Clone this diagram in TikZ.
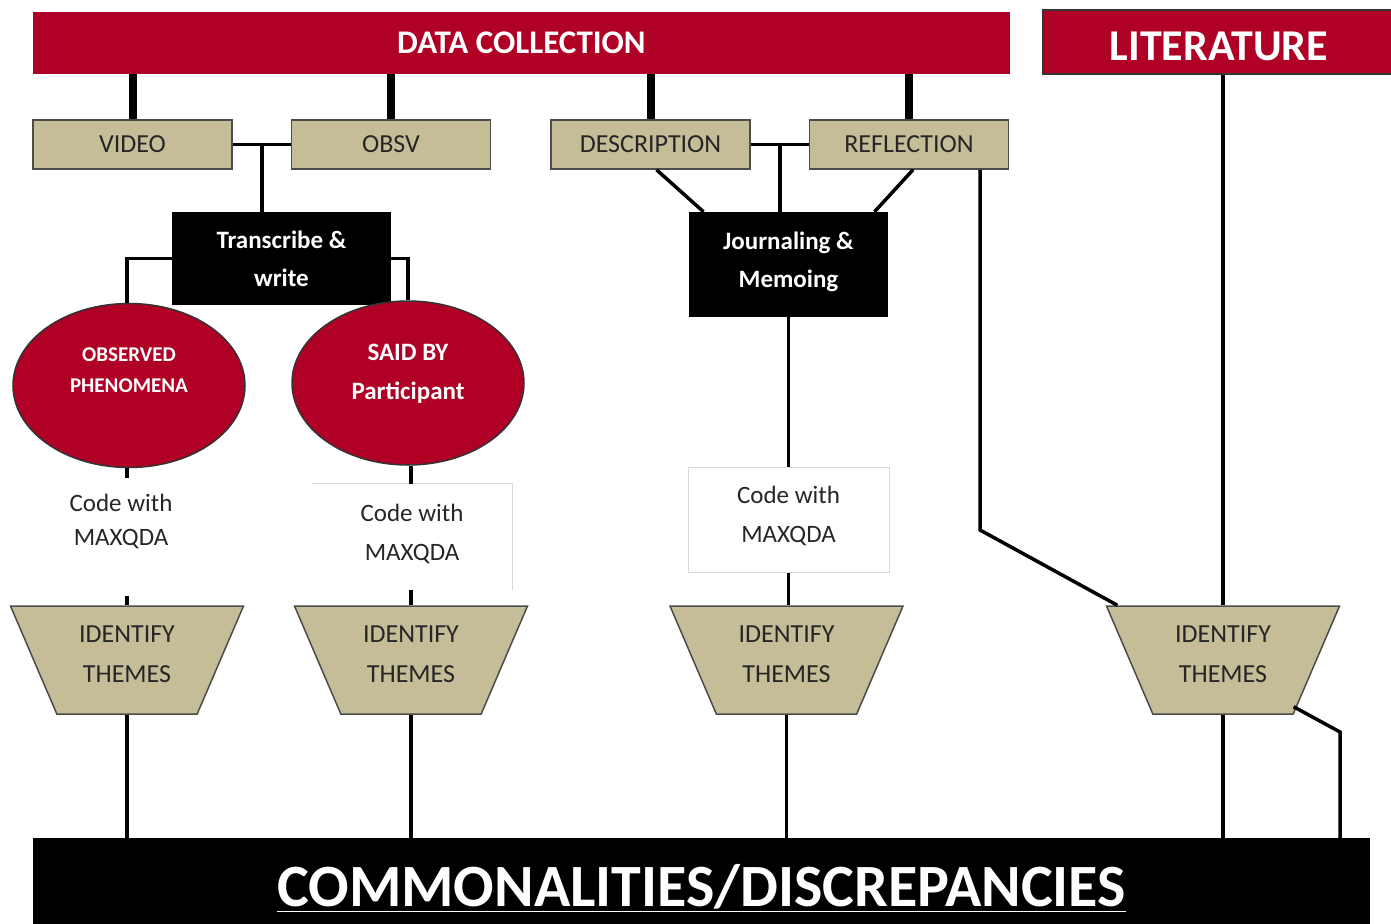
\documentclass[tikz,border=0pt]{standalone}
\usepackage{fontspec}
\setmainfont{Carlito}
\usetikzlibrary{shapes.geometric}
\definecolor{dcred}{HTML}{B00026}
\definecolor{dctan}{HTML}{C4BD97}
\tikzstyle{hbar} = [rectangle,fill=dcred,text=white,font=\bfseries,inner sep=0pt]
\tikzstyle{tbox} = [rectangle,draw=black!70,line width=1.5pt,fill=dctan,text=black!85,
    minimum width=199pt,minimum height=49pt,inner sep=0pt,font=\fontsize{26}{30}\selectfont]
\tikzstyle{bbox} = [rectangle,fill=black,text=white,align=center,inner sep=0pt,
    font=\bfseries\fontsize{25}{38}\selectfont]
\tikzstyle{rell} = [ellipse,draw=black!80,line width=1.5pt,fill=dcred,text=white,align=center,
    minimum width=232pt,minimum height=164pt,inner sep=0pt]
\tikzstyle{cbox} = [rectangle,fill=white,align=center,inner sep=0pt,text=black!85,
    font=\fontsize{25}{39}\selectfont]
\tikzstyle{ttrap} = [trapezium,trapezium left angle=124,trapezium right angle=124,
    trapezium stretches body,draw=black!70,line width=1.5pt,fill=dctan,text=black!85,
    minimum width=233pt,minimum height=108pt,inner sep=0pt,align=center,
    font=\fontsize{26}{40}\selectfont]
\tikzstyle{tlink} = [line width=8pt]
\tikzstyle{link} = [line width=3.5pt]

\begin{document}
\begin{tikzpicture}[x=1pt,y=-1pt]
	\useasboundingbox (0,0) rectangle (1391,923);

	\node(datacol) at (521.5,43) [hbar,minimum width=977pt,minimum height=62pt,font=\bfseries\fontsize{33}{40}\selectfont] {DATA COLLECTION};
	\node(lit) at (1219,42) [hbar,align=center,draw=black!80,line width=2pt,minimum width=352pt,minimum height=64pt,font=\bfseries\fontsize{44}{50}\selectfont] {\mbox{}\\[-12pt]LITERATURE};

	\node(video) at (132.5,144.5) [tbox] {VIDEO};
	\node(obsv) at (391,144.5) [tbox] {OBSV};
	\node(desc) at (650.5,144.5) [tbox] {DESCRIPTION};
	\node(refl) at (909,144.5) [tbox] {REFLECTION};

	\node(trans) at (281.5,258.5) [bbox,minimum width=219pt,minimum height=93pt] {Transcribe \&\\write};
	\node(jour) at (788.5,264.5) [bbox,minimum width=199pt,minimum height=105pt] {Journaling \&\\Memoing\\[-28pt]\mbox{}};

	\node(obs) at (129,385.5) [rell,font=\bfseries\fontsize{21}{31}\selectfont] {OBSERVED\\PHENOMENA\\\mbox{}};
	\node(said) at (408,383) [rell,font=\bfseries\fontsize{25}{39}\selectfont] {SAID BY\\Participant\\[-16pt]\mbox{}};

	\node(code1) at (121,537) [cbox,minimum width=130pt,minimum height=118pt,font=\fontsize{25}{34}\selectfont] {Code with\\MAXQDA\\\mbox{}};
	\node(code2) at (412,537) [cbox,minimum width=200pt,minimum height=106pt] {Code with\\MAXQDA\\[-29pt]\mbox{}};
	\node(code3) at (788.5,519.5) [cbox,draw=black!15,line width=1pt,minimum width=201pt,minimum height=105pt] {Code with\\MAXQDA\\[-29pt]\mbox{}};
	\draw[black!15,line width=1pt] (code2.north west) -- (code2.north east) -- (code2.south east);

	\node(t1) at (127,660) [ttrap] {IDENTIFY\\THEMES\\[-28pt]\mbox{}};
	\node(t2) at (411,660) [ttrap] {IDENTIFY\\THEMES\\[-28pt]\mbox{}};
	\node(t3) at (786.5,660) [ttrap] {IDENTIFY\\THEMES\\[-28pt]\mbox{}};
	\node(t4) at (1223,660) [ttrap] {IDENTIFY\\THEMES\\[-28pt]\mbox{}};

	\node(com) at (701.5,888) [hbar,fill=black,minimum width=1337pt,minimum height=100pt,font=\bfseries\fontsize{60}{64}\selectfont] {\underline{COMMONALITIES/DISCREPANCIES}};

	\draw[tlink] (video.north) -- (video.north |- datacol.south);
	\draw[tlink] (obsv.north) -- (obsv.north |- datacol.south);
	\draw[tlink] (desc.north) -- (desc.north |- datacol.south);
	\draw[tlink] (refl.north) -- (refl.north |- datacol.south);

	\draw[link] (video.east) -- coordinate (vomid) (obsv.west);
	\draw[link] (vomid) -- (vomid |- trans.north);
	\draw[link] (desc.east) -- coordinate (drmid) (refl.west);
	\draw[link] (drmid) -- (drmid |- jour.north);
	\draw[link] ([xshift=6pt]desc.south) -- ([xshift=-85pt]jour.north);
	\draw[link] ([xshift=4pt]refl.south) -- ([xshift=86pt]jour.north);

	\draw[link] (trans.west) -| (t1.north |- obs.north);
	\draw[link] (trans.east) -| (said.north);

	\draw[link] (t1.north |- obs.south) -- (t1.north |- code1.north);
	\draw[link] (t1.north |- code1.south) -- (t1.north);
	\draw[link] (t2.north |- said.south) -- (t2.north |- code2.north);
	\draw[link] (t2.north |- code2.south) -- (t2.north);
	\draw[link] (jour.south) -- (jour.south |- code3.north);
	\draw[link] (jour.south |- code3.south) -- (jour.south |- t3.north);

	\coordinate (reflbend) at (980,530);
	\draw[link] ([xshift=71pt]refl.south) -- (reflbend) -- ([xshift=12pt]t4.top left corner);
	\draw[link] (t4.north |- lit.south) -- (t4.north);

	\draw[link] (t1.south) -- (t1.south |- com.north);
	\draw[link] (t2.south) -- (t2.south |- com.north);
	\draw[link] (t3.south) -- (t3.south |- com.north);
	\draw[link] (t4.south) -- (t4.south |- com.north);
	\coordinate (litbend) at (1340,732);
	\draw[link] ([yshift=8pt]t4.bottom right corner) -- (litbend) -- (litbend |- com.north);
\end{tikzpicture}
\end{document}
